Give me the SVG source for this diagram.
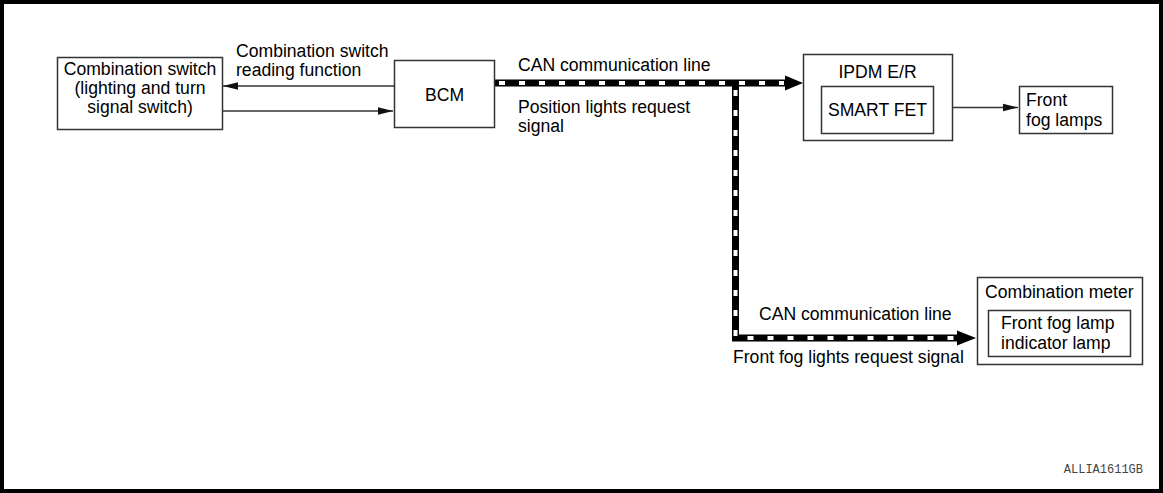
<svg xmlns="http://www.w3.org/2000/svg" width="1163" height="493" viewBox="0 0 1163 493">
<defs>
<style>
.box{fill:#fff;stroke:#333;stroke-width:1.5}
.t{font-family:"Liberation Sans",Arial,Helvetica,sans-serif;font-size:17.6px;fill:#000}
.c{text-anchor:middle}
.thin{fill:none;stroke:#333;stroke-width:1.4}
.canb{fill:none;stroke:#000;stroke-width:7}
.canw{fill:none;stroke:#fff;stroke-width:4;stroke-dasharray:6 14}
</style>
<marker id="ah" markerUnits="userSpaceOnUse" markerWidth="16" markerHeight="9" refX="15" refY="4.5" orient="auto">
<path d="M0,0.8 L15,4.5 L0,8.2 Z" fill="#111"/>
</marker>
</defs>
<rect x="0" y="0" width="1163" height="493" fill="#fff"/>
<rect x="2" y="2" width="1159" height="489" fill="none" stroke="#000" stroke-width="4"/>

<g id="connectors">
<line class="thin" x1="394" y1="86" x2="223" y2="86" marker-end="url(#ah)"/>
<line class="thin" x1="222" y1="111" x2="393" y2="111" marker-end="url(#ah)"/>
<line class="thin" x1="933" y1="107.5" x2="1018" y2="107.5" marker-end="url(#ah)"/>
<path class="canb" d="M495,83 H790"/>
<path d="M785,75.5 L803,83 L785,90.5 Z" fill="#000"/>
<path class="canw" d="M499,83 H784"/>
<path class="canb" d="M735.5,83 V338 H960"/>
<path d="M957,330.5 L976,338 L957,345.5 Z" fill="#000"/>
<path class="canw" d="M735.5,90 V338 H955"/>
<text class="t" x="236" y="57">Combination switch</text>
<text class="t" x="236" y="76">reading function</text>
<text class="t" x="518" y="71">CAN communication line</text>
<text class="t" x="518" y="113">Position lights request</text>
<text class="t" x="518" y="132">signal</text>
<text class="t" x="759" y="320">CAN communication line</text>
<text class="t" x="733" y="363">Front fog lights request signal</text>
</g>

<g id="combination-switch">
<rect class="box" x="57.5" y="57.5" width="165" height="72"/>
<text class="t c" x="140" y="75">Combination switch</text>
<text class="t c" x="140" y="94">(lighting and turn</text>
<text class="t c" x="140" y="113">signal switch)</text>
</g>

<g id="bcm">
<rect class="box" x="394.5" y="60.5" width="100" height="67"/>
<text class="t c" x="444.5" y="101">BCM</text>
</g>

<g id="ipdm">
<rect class="box" x="803.5" y="54.5" width="149" height="86"/>
<text class="t c" x="877.5" y="78">IPDM E/R</text>
<g id="smart-fet">
<rect class="box" x="821.5" y="86.5" width="112" height="47"/>
<text class="t c" x="877.5" y="116">SMART FET</text>
</g>
</g>

<g id="front-fog-lamps">
<rect class="box" x="1019.5" y="86.5" width="93" height="47"/>
<text class="t" x="1026" y="106">Front</text>
<text class="t" x="1026" y="126">fog lamps</text>
</g>

<g id="combination-meter">
<rect class="box" x="977.5" y="277.5" width="165" height="87"/>
<text class="t" x="985" y="298">Combination meter</text>
<g id="fog-indicator">
<rect class="box" x="988.5" y="310.5" width="142" height="46"/>
<text class="t" x="1001" y="329">Front fog lamp</text>
<text class="t" x="1001" y="349">indicator lamp</text>
</g>
</g>

<text x="1143" y="473" text-anchor="end" font-family="Liberation Mono,Courier New,monospace" font-size="12" fill="#444">ALLIA1611GB</text>
</svg>
